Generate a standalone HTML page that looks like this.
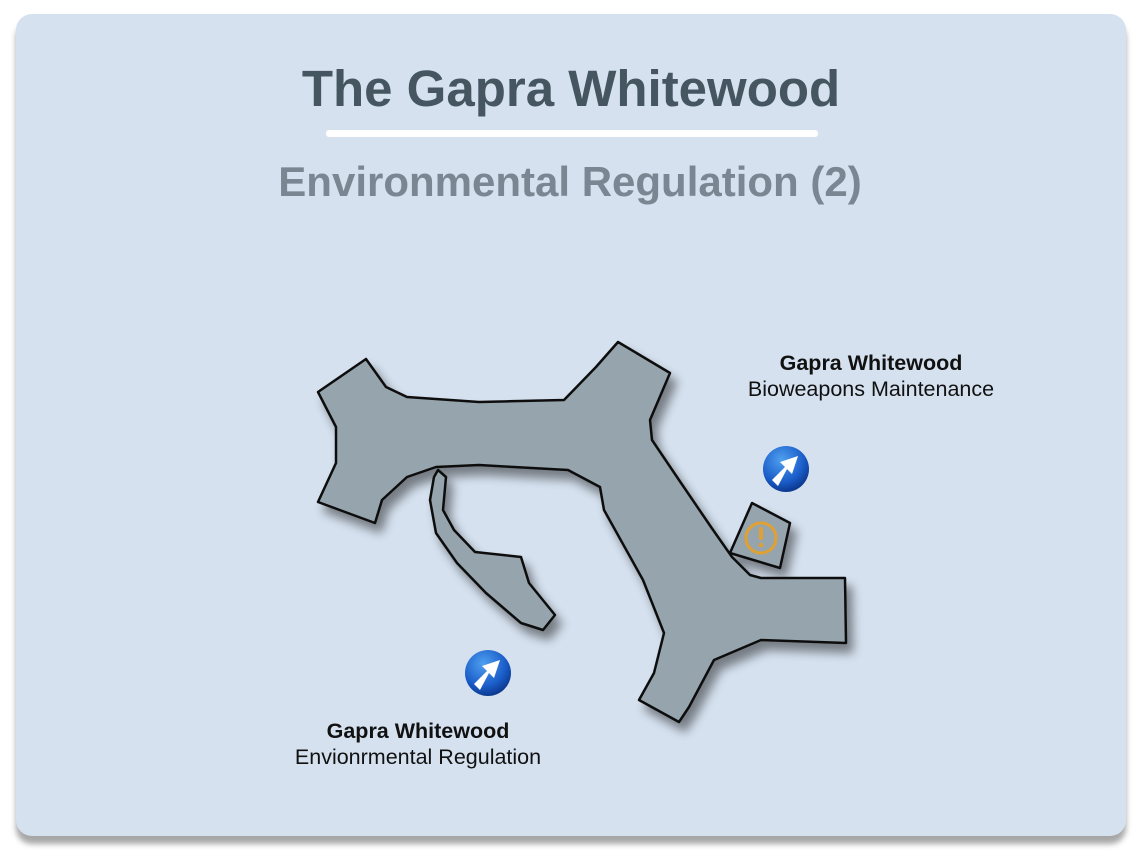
<!DOCTYPE html>
<html><head><style>
body{margin:0;width:1140px;height:865px;background:#fff;font-family:"Liberation Sans",sans-serif;overflow:hidden}
.card{position:absolute;left:16px;top:14px;width:1110px;height:822px;background:#d5e1ef;border-radius:16px;box-shadow:0 8px 6px rgba(0,0,0,0.35)}
</style></head><body>
<div class="card"></div>
<svg width="1140" height="865" style="position:absolute;left:0;top:0">
<defs>
<filter id="sh" x="-20%" y="-20%" width="140%" height="140%"><feGaussianBlur in="SourceAlpha" stdDeviation="5"/><feOffset dx="6" dy="9"/><feComponentTransfer><feFuncA type="linear" slope="0.45"/></feComponentTransfer><feMerge><feMergeNode/><feMergeNode in="SourceGraphic"/></feMerge></filter>
<radialGradient id="bl" cx="40%" cy="30%" r="70%"><stop offset="0" stop-color="#4fa0f0"/><stop offset="0.7" stop-color="#1a5cc8"/><stop offset="1" stop-color="#0c3a90"/></radialGradient>
</defs>
<text x="571" y="106" text-anchor="middle" font-size="51" font-weight="bold" fill="#455661">The Gapra Whitewood</text>
<rect x="326" y="130" width="492" height="7" rx="3" fill="#fff"/>
<text x="570" y="196" text-anchor="middle" font-size="42" font-weight="bold" fill="#7a8691">Environmental Regulation (2)</text>
<g filter="url(#sh)" fill="#95a4ad" stroke="#111" stroke-width="2.5" stroke-linejoin="round">
<polygon points="318,392 366,359 386,387 407,397 479,402 564,400 596,367 618,342 670,373 650,420 652,440 679,480 711,527 732,557 750,575 761,578 845,578 846,643 761,640 714,660 689,707 679,722 639,700 654,673 664,633 643,580 604,510 600,487 568,470 479,465 436,467 407,477 382,500 375,523 318,502 336,463 336,427"/>
<polygon points="438,470 446,477 443,510 454,530 475,552 521,557 529,583 555,615 543,630 521,623 486,593 457,563 436,533 430,500 434,477"/>
<polygon points="752,503 790,523 780,568 730,553"/>
</g>
<circle cx="761" cy="538" r="15" fill="none" stroke="#e0a032" stroke-width="3"/>
<rect x="759" y="527" width="4" height="13" rx="2" fill="#e0a032"/>
<circle cx="761" cy="545" r="2.3" fill="#e0a032"/>
<g fill="#fff">
<circle cx="786" cy="469" r="23" fill="url(#bl)"/>
<path d="M772,480 L785,467 L780,462 L798,456 L792,474 L787,469 L778,486 Z"/>
<circle cx="488" cy="673" r="23" fill="url(#bl)"/>
<path d="M474,684 L487,671 L482,666 L500,660 L494,678 L489,673 L480,690 Z"/>
</g>
<text x="871" y="370" text-anchor="middle" font-size="21.5" font-weight="bold" fill="#111">Gapra Whitewood</text>
<text x="871" y="396" text-anchor="middle" font-size="21.5" fill="#111">Bioweapons Maintenance</text>
<text x="418" y="738" text-anchor="middle" font-size="21.5" font-weight="bold" fill="#111">Gapra Whitewood</text>
<text x="418" y="764" text-anchor="middle" font-size="21.5" fill="#111">Envionrmental Regulation</text>
</svg>
</body></html>
